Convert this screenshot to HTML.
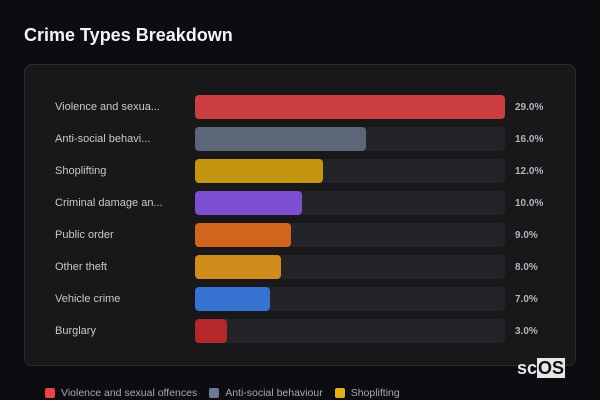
<!DOCTYPE html>
<html><head><meta charset="utf-8"><style>
body{margin:0;width:600px;height:400px;background:#0d0c10;font-family:"Liberation Sans",sans-serif;overflow:hidden;position:relative}
.title{position:absolute;left:24px;top:25px;font-size:18px;font-weight:bold;color:#f4f4f6}
.panel{position:absolute;left:24px;top:64px;width:550px;height:300px;background:#18181b;border:1px solid #2c2c31;border-radius:8px}
.lbl{position:absolute;left:55px;font-size:11px;color:#c9c9cc;line-height:24px;white-space:nowrap}
.track{position:absolute;left:195px;width:310px;height:24px;background:#242428;border-radius:4px}
.bar{position:absolute;left:195px;height:24px;border-radius:4px}
.val{position:absolute;left:515px;font-size:10px;font-weight:bold;color:#b3b3b8;line-height:24px;margin-top:1px}
.legend{position:absolute;top:387px;left:45px;font-size:10.5px;color:#a9a9b0;display:flex;gap:12px;white-space:nowrap}
.legend span{display:inline-flex;align-items:center}
.legend i{display:inline-block;width:10px;height:10px;border-radius:2px;margin-right:6px}
.logo{position:absolute;left:517px;top:358px;font-size:18px;font-weight:bold;color:#e6e6e6}
.logo b{background:#e6e6e6;color:#111;padding:0 1px}
</style></head><body>
<div class="title">Crime Types Breakdown</div>
<div class="panel"></div>
<div id="rows"></div>
<div class="legend">
<span><i style="background:#e84545"></i>Violence and sexual offences</span>
<span><i style="background:#6b7a90"></i>Anti-social behaviour</span>
<span><i style="background:#e0b020"></i>Shoplifting</span>
</div>
<div class="logo">sc<b>OS</b></div>
<script>
const categories=["Violence and sexua...","Anti-social behavi...","Shoplifting","Criminal damage an...","Public order","Other theft","Vehicle crime","Burglary"];
const values=[29,16,12,10,9,8,7,3];
const colors=["#cc3f40","#5b6678","#c49511","#7b4fd0","#d2651d","#cf8b1c","#3673d1","#b5282a"];
const maxV=Math.max(...values);
const x=v=>v/maxV*310;
const y=i=>95+i*32;
const root=document.getElementById('rows');
categories.forEach((c,i)=>{
  const l=document.createElement('div');l.className='lbl';l.style.top=y(i)+'px';l.textContent=c;
  
  
  const t=document.createElement('div');t.className='track';t.style.top=y(i)+'px';
  
  
  const b=document.createElement('div');b.className='bar';b.style.top=y(i)+'px';b.style.width=x(values[i])+'px';b.style.background=colors[i];
  
  
  const v=document.createElement('div');v.className='val';v.style.top=y(i)+'px';v.textContent=values[i].toFixed(1)+'%';
  
  
  root.append(l,t,b,v);
});
</script>
</body></html>
